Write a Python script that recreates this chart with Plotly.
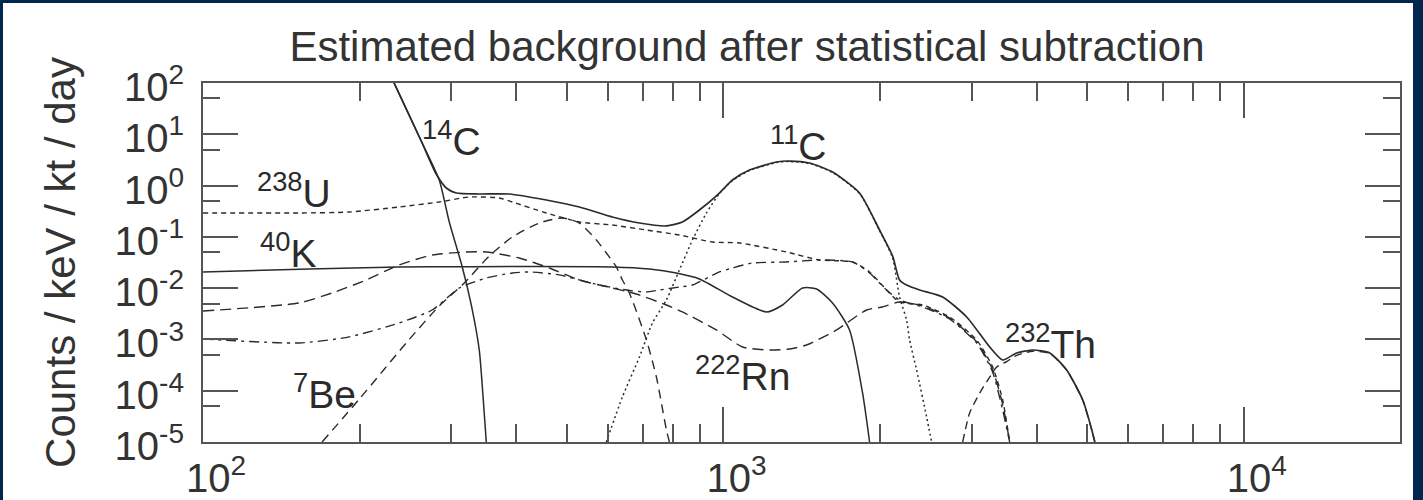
import plotly.graph_objects as go

# ---------------- data (energy in keV, rate in counts / keV / kt / day) ----------------
total_E = [222.9, 232.9, 262.6, 280.6, 293.4, 306.6, 339.5, 387.7, 456.7, 528.7,
           611.7, 689.6, 777, 834, 899.2, 982.4, 1040.6, 1122, 1264.9, 1339.5,
           1463.4, 1620.3, 1826, 1995, 2113.5, 2180, 2248.6, 2382, 2637, 2934,
           3248, 3440, 3660, 3929, 4237, 4566, 4902, 5103, 5171]
total_V = [268.5, 100, 7.40, 1.68, 0.897, 0.716, 0.685, 0.685, 0.523, 0.382,
           0.244, 0.186, 0.163, 0.195, 0.334, 0.716, 1.285, 2.01, 2.88, 3.01,
           2.755, 1.84, 0.716, 0.136, 0.0425, 0.0144, 0.0115, 0.0092, 0.00672, 0.00274,
           0.000712, 0.000397, 0.000544, 0.000622, 0.000544, 0.000254, 6.6e-5, 1.72e-5, 1e-5]

c14_E = [222.9, 232.9, 262.6, 284.4, 297.3, 314.9, 327.7, 339.5, 345.6, 350.2]
c14_V = [268.5, 100, 7.40, 1.285, 0.195, 0.0259, 0.0047, 0.00062, 6.6e-5, 1e-5]

k40_E = [100, 160, 238, 310.7, 611.7, 720.7, 812, 899.2, 1040.6, 1209.6,
         1299, 1419, 1510, 1620.3, 1747, 1850.7, 1909]
k40_V = [0.0207, 0.0236, 0.0259, 0.0262, 0.0259, 0.0236, 0.0197, 0.0151, 0.00672, 0.00343,
         0.00469, 0.01007, 0.00963, 0.00514, 0.00153, 9.03e-5, 1e-5]

u238_E = [100, 153, 191, 238, 284.4, 324.8, 370.7, 392.9, 456.7, 528.7,
          611.7, 711.2, 823, 952, 1073.5, 1321.8, 1529.6, 1770.4, 1909, 2058,
          2180, 2414, 2720, 3066, 3291, 3440, 3548]
u238_V = [0.292, 0.292, 0.305, 0.382, 0.4785, 0.599, 0.5725, 0.4785, 0.292, 0.195,
          0.170, 0.136, 0.1088, 0.0794, 0.0759, 0.0507, 0.0354, 0.0324, 0.0207, 0.0092,
          0.00537, 0.00469, 0.00274, 0.000976, 0.00029, 6.6e-5, 1e-5]

be7_E = [169.4, 200, 249, 284.4, 314.9, 354.8, 392.9, 442.8, 490.2, 528.7,
         570, 595.7, 622.7, 639.5, 659.6, 711.2, 743.4, 777, 787.4]
be7_V = [1e-5, 7e-5, 1e-3, 4.5e-3, 0.0115, 0.042, 0.0994, 0.186, 0.233, 0.186,
         0.0869, 0.0485, 0.0259, 0.0144, 0.00805, 0.00098, 0.000185, 1.72e-5, 1e-5]

rn222_E = [100, 153, 177, 205.8, 238, 275.7, 320.5, 350.2, 405.3, 462.8,
           528.7, 577.5, 680, 777, 834, 969.4, 1087.8, 1225.8, 1339.5, 1444,
           1649.4, 1883.6, 2022, 2180, 2414, 2720, 3066, 3291, 3440, 3548]
rn222_V = [0.00359, 0.00514, 0.00805, 0.0144, 0.0283, 0.0443, 0.0507, 0.0507, 0.0387, 0.0247,
           0.0144, 0.0115, 0.0077, 0.00469, 0.00343, 0.00153, 0.000712, 0.000622, 0.00065, 0.000779,
           0.00153, 0.00375, 0.00429, 0.00537, 0.0045, 0.0026, 0.0009, 0.000254, 5.4e-5, 1e-5]

other_E = [100, 153, 191, 238, 275.7, 310.7, 350.2, 392.9, 423.6, 483.7,
           577.5, 651, 711.2, 753.3, 823, 871.8, 982.4, 1040.6, 1137, 1321.8,
           1529.6, 1770.4, 1909, 2058, 2180, 2414, 2720, 3066, 3291, 3440, 3548]
other_V = [0.00102, 0.000853, 0.00112, 0.00209, 0.00375, 0.01007, 0.0158, 0.0197, 0.0207, 0.0181,
           0.0115, 0.0092, 0.0084, 0.0092, 0.0105, 0.0115, 0.0207, 0.0247, 0.0309, 0.0324,
           0.0354, 0.0324, 0.0197, 0.0092, 0.00587, 0.0043, 0.0025, 0.00085, 0.00023, 4.2e-5, 1e-5]

c11_E = [595.7, 639.5, 689.6, 730.4, 777, 823, 871.8, 927.6, 982.4, 1040.6,
         1122, 1264.9, 1339.5, 1463.4, 1620.3, 1826, 1995, 2113.5, 2180, 2248.6,
         2278.7, 2350.4, 2457, 2512]
c11_V = [1e-5, 7.55e-5, 4.55e-4, 2.09e-3, 5.87e-3, 0.0226, 0.0869, 0.292, 0.70, 1.25,
         1.96, 2.82, 2.95, 2.70, 1.80, 0.70, 0.133, 0.039, 0.0067, 0.0024,
         9.8e-4, 2.54e-4, 3.07e-5, 1e-5]

th232_E = [2882, 2972, 3107, 3248, 3350, 3502, 3660, 3929, 4237, 4566, 4902, 5103, 5171]
th232_V = [1e-5, 3.68e-5, 9.0e-5, 1.85e-4, 2.9e-4, 3.7e-4, 4.9e-4, 5.9e-4, 5.3e-4, 2.5e-4,
           6.5e-5, 1.7e-5, 1e-5]

x_tickvals = [100, 1000, 10000]
x_ticktext = ["10<sup>2</sup>", "10<sup>3</sup>", "10<sup>4</sup>"]
y_tickvals = [1e-5, 1e-4, 1e-3, 1e-2, 1e-1, 1, 10, 100]
y_ticktext = ["10<sup>-5</sup>", "10<sup>-4</sup>", "10<sup>-3</sup>", "10<sup>-2</sup>",
              "10<sup>-1</sup>", "10<sup>0</sup>", "10<sup>1</sup>", "10<sup>2</sup>"]

labels = ["<sup>14</sup>C", "<sup>238</sup>U", "<sup>40</sup>K", "<sup>7</sup>Be",
          "<sup>222</sup>Rn", "<sup>11</sup>C", "<sup>232</sup>Th"]

# ---------------- styling / layout ----------------
W, H = 1423, 500
L, R, T, B = 203, 1400, 83, 442
INK = "#2b2b2b"
FRAME = "#555555"
FONT = "Liberation Sans, Arial, Helvetica, sans-serif"


def px(x):
    return (x - L) / (R - L)


def py(y):
    return (B - y) / (B - T)


fig = go.Figure()

series = [
    ("238U", u238_E, u238_V, "5px,4px", 1.4),
    ("7Be", be7_E, be7_V, "9px,6px", 1.4),
    ("222Rn", rn222_E, rn222_V, "11px,6px", 1.4),
    ("other", other_E, other_V, "10px,5px,3px,5px", 1.4),
    ("11C", c11_E, c11_V, "2px,3px", 1.5),
    ("232Th", th232_E, th232_V, "8px,5px", 1.4),
    ("40K", k40_E, k40_V, "solid", 1.5),
    ("14C", c14_E, c14_V, "solid", 1.5),
    ("total", total_E, total_V, "solid", 1.7),
]
for name, xs, ys, dash, w in series:
    fig.add_trace(go.Scatter(
        x=xs, y=ys, mode="lines", name=name,
        line=dict(color=INK, width=w, dash=dash, shape="spline", smoothing=0.6),
        showlegend=False, hoverinfo="x+y+name"))

# label positions (pixel: left x, baseline y)
label_pos = [(421, 155), (256, 207), (259, 267), (292, 408), (694, 390), (769, 160), (1004, 358)]
for text, (lx, ly) in zip(labels, label_pos):
    fig.add_annotation(text=text, xref="paper", yref="paper",
                       x=px(lx), y=py(ly + 9), xanchor="left", yanchor="bottom",
                       showarrow=False, borderpad=0,
                       font=dict(size=39, color=INK, family=FONT))

# white panel on navy frame
fig.add_shape(type="rect", xref="paper", yref="paper", layer="below",
              x0=px(3), x1=px(1413), y0=py(503), y1=py(3),
              fillcolor="white", line=dict(width=0))

axis_common = dict(
    type="log", showgrid=False, zeroline=False, showline=True,
    linecolor=FRAME, linewidth=2, mirror="ticks",
    ticks="inside", ticklen=35, tickwidth=1.5, tickcolor=FRAME,
    tickmode="array", automargin=False,
)

fig.update_xaxes(
    **axis_common,
    range=[2, 4.3],
    tickvals=x_tickvals, ticktext=x_ticktext,
    tickfont=dict(size=40, color="#333333", family=FONT),
    ticklabelshift=13, ticklabelstandoff=0,
    minor=dict(tickmode="array",
               tickvals=[m * 10 ** k for k in (2, 3) for m in range(2, 10)],
               ticks="inside", ticklen=18, tickwidth=1.5, tickcolor=FRAME, showgrid=False),
)
fig.update_yaxes(
    **axis_common,
    range=[-5, 2],
    tickvals=y_tickvals, ticktext=y_ticktext,
    tickfont=dict(size=40, color="#333333", family=FONT),
    ticklabelshift=4, ticklabelstandoff=9,
    minor=dict(tickmode="array",
               tickvals=[5 * 10 ** k for k in range(-5, 2)],
               ticks="inside", ticklen=17, tickwidth=1.5, tickcolor=FRAME, showgrid=False),
    title=dict(text="Counts / keV / kt / day", standoff=26,
               font=dict(size=42, color="#333333", family=FONT)),
)

fig.update_layout(
    template="none",
    width=W, height=H,
    margin=dict(l=L, r=W - R, t=T, b=H - B, pad=0, autoexpand=False),
    paper_bgcolor="#03264f",
    plot_bgcolor="white",
    font=dict(family=FONT, color="#333333"),
    title=dict(text="Estimated background after statistical subtraction",
               xref="paper", x=px(747), xanchor="center",
               yref="container", y=1 - 46 / H, yanchor="middle",
               font=dict(size=42, color="#333333", family=FONT)),
    showlegend=False,
)

fig.write_html("out.html",
               config={"displayModeBar": False},
               post_script="document.body.style.margin='0';document.body.style.overflow='hidden';")
